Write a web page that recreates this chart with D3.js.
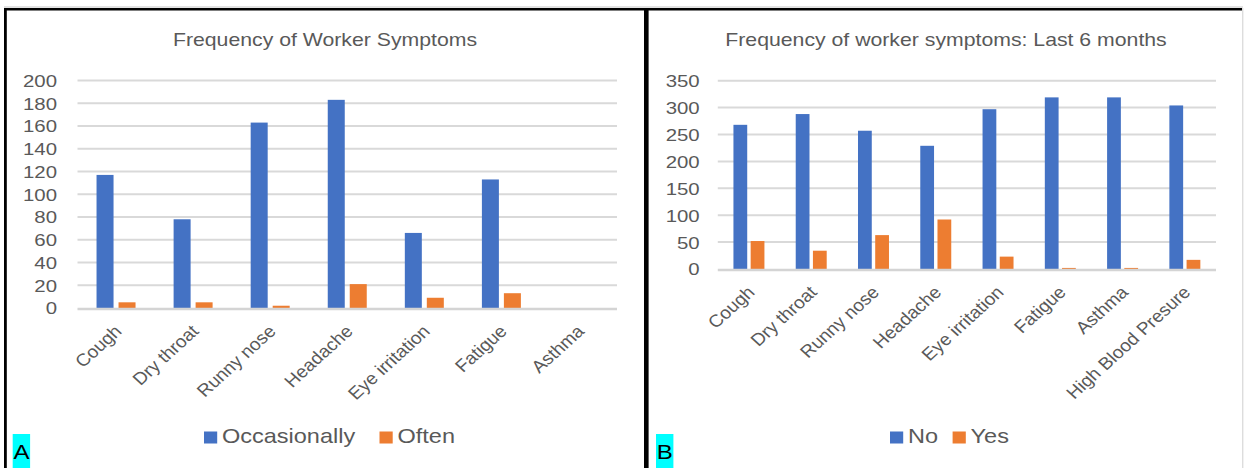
<!DOCTYPE html>
<html>
<head>
<meta charset="utf-8">
<script src="https://cdn.jsdelivr.net/npm/d3@7"></script>
<style>
  html, body { margin: 0; padding: 0; background: #ffffff; }
  svg { display: block; font-family: "Liberation Sans", Arial, sans-serif; }
</style>
</head>
<body>
<svg id="chart" width="1244" height="468"></svg>
<script>
// ---- Panel A data ----
const categoriesA = ["Cough", "Dry throat", "Runny nose", "Headache", "Eye irritation", "Fatigue", "Asthma"];
const seriesA = ["Occasionally", "Often"];
const occasionally = [117, 78, 163, 183, 66, 113, 0];
const often = [5, 5, 2, 21, 9, 13, 0];
const ticksA = [0, 20, 40, 60, 80, 100, 120, 140, 160, 180, 200];

// ---- Panel B data ----
const categoriesB = ["Cough", "Dry throat", "Runny nose", "Headache", "Eye irritation", "Fatigue", "Asthma", "High Blood Presure"];
const seriesB = ["No", "Yes"];
const noValues = [268, 288, 257, 229, 297, 319, 319, 304];
const yesValues = [52, 34, 63, 92, 23, 2, 2, 17];
const ticksB = [0, 50, 100, 150, 200, 250, 300, 350];

const colors = ["#4472c4", "#ed7d31"];
const textColor = "#595959";
const SX = 1.2;      // horizontal stretch of upright text
const SX_ROT = 1.1;  // horizontal stretch of the slanted category labels

const svg = d3.select("#chart");

// frame: grey outer hairline, black top rule, left rule, centre divider
svg.append("rect").attr("x", 4).attr("y", 6.5).attr("width", 1239).attr("height", 1).attr("fill", "#c8c8c8");
svg.append("rect").attr("x", 4).attr("y", 8).attr("width", 1238).attr("height", 2.5).attr("fill", "#000");
svg.append("rect").attr("x", 4).attr("y", 8).attr("width", 2.8).attr("height", 460).attr("fill", "#000");
svg.append("rect").attr("x", 644).attr("y", 8).attr("width", 4.6).attr("height", 460).attr("fill", "#000");
svg.append("rect").attr("x", 1242.3).attr("y", 8).attr("width", 1).attr("height", 460).attr("fill", "#cfcfcf");

function drawPanel(cfg) {
  const g = svg.append("g");
  const data = cfg.categories.map((c, i) => ({ cat: c, values: cfg.series.map((s, j) => ({ key: s, j, v: cfg.values[j][i] })) }));

  const y = d3.scaleLinear().domain([0, cfg.max]).range([cfg.y0, cfg.yTop]);
  const x0 = d3.scaleBand().domain(cfg.categories).range([cfg.left, cfg.right])
    .paddingInner(cfg.outerPad).paddingOuter(cfg.outerPad / 2);
  const x1 = d3.scaleBand().domain(cfg.series).range([0, x0.bandwidth()]).paddingInner(cfg.innerPad);

  // gridlines
  g.append("g").selectAll("line").data(cfg.ticks.filter(t => t > 0)).join("line")
    .attr("x1", cfg.left).attr("x2", cfg.right)
    .attr("y1", d => y(d)).attr("y2", d => y(d))
    .attr("stroke", "#d9d9d9").attr("stroke-width", 2);

  // bars
  g.append("g").selectAll("g").data(data).join("g")
    .attr("transform", d => `translate(${x0(d.cat)},0)`)
    .selectAll("rect").data(d => d.values).join("rect")
    .attr("x", d => x1(d.key)).attr("width", x1.bandwidth())
    .attr("y", d => y(d.v)).attr("height", d => y(0) - y(d.v))
    .attr("fill", d => colors[d.j]);

  // category axis line
  g.append("line").attr("x1", cfg.left).attr("x2", cfg.right)
    .attr("y1", y(0) + 1).attr("y2", y(0) + 1)
    .attr("stroke", "#d4d4d4").attr("stroke-width", 2.4);

  // value axis labels
  const yAxis = g.append("g").attr("transform", `translate(${cfg.labelRight},0)`)
    .call(d3.axisLeft(y).tickValues(cfg.ticks).tickSize(0).tickPadding(0));
  yAxis.select(".domain").remove();
  yAxis.selectAll("text")
    .attr("x", null).attr("dy", "0.35em")
    .attr("transform", `scale(${SX},1)`)
    .attr("fill", textColor).style("font-size", "17px")
    .style("font-family", "'Liberation Sans', Arial, sans-serif");

  // category labels, slanted
  const xAxis = g.append("g").attr("transform", `translate(0,${cfg.y0})`)
    .call(d3.axisBottom(x0).tickSize(0).tickPadding(0));
  xAxis.select(".domain").remove();
  xAxis.selectAll("text")
    .attr("y", null).attr("dy", "0.35em")
    .attr("text-anchor", "end")
    .attr("transform", `translate(${cfg.labelDx},${cfg.labelDy}) scale(${SX_ROT},1) rotate(-45)`)
    .attr("fill", textColor).style("font-size", "17.4px")
    .style("font-family", "'Liberation Sans', Arial, sans-serif");

  // title
  g.append("text").text(cfg.title)
    .attr("text-anchor", "middle")
    .attr("transform", `translate(${cfg.titleX},45.5) scale(${SX},1)`)
    .attr("fill", textColor).style("font-size", "17.7px");

  // legend
  const leg = g.append("g").selectAll("g").data(cfg.series).join("g")
    .attr("transform", (d, i) => `translate(${cfg.legendX[i]},0)`);
  leg.append("rect").attr("x", 0).attr("y", 431.5).attr("width", 13.2).attr("height", 12)
    .attr("fill", (d, i) => colors[i]);
  leg.append("text").text(d => d)
    .attr("transform", `translate(18,443.3) scale(${SX},1)`)
    .attr("fill", textColor).style("font-size", "19.6px");

  // panel tag
  g.append("rect").attr("x", cfg.tagX).attr("y", 434).attr("width", 17.4).attr("height", 40).attr("fill", "#00ffff");
  g.append("text").text(cfg.tag)
    .attr("text-anchor", "middle")
    .attr("transform", `translate(${cfg.tagX + 8.7},458.5) scale(${SX},1)`)
    .attr("fill", "#000").style("font-size", "20px");
}

drawPanel({
  categories: categoriesA, series: seriesA, values: [occasionally, often], ticks: ticksA, max: 200,
  left: 77.5, right: 617, y0: 308, yTop: 80.5, labelRight: 57,
  outerPad: 0.494, innerPad: 0.227, labelDx: 2, labelDy: 20,
  title: "Frequency of Worker Symptoms", titleX: 325,
  legendX: [204, 379.5], tag: "A", tagX: 12.7
});

drawPanel({
  categories: categoriesB, series: seriesB, values: [noValues, yesValues], ticks: ticksB, max: 350,
  left: 717.8, right: 1216, y0: 269, yTop: 80.7, labelRight: 699.7,
  outerPad: 0.5025, innerPad: 0.2, labelDx: 2, labelDy: 20,
  title: "Frequency of worker symptoms: Last 6 months", titleX: 946,
  legendX: [890, 952.6], tag: "B", tagX: 656
});
</script>
</body>
</html>
